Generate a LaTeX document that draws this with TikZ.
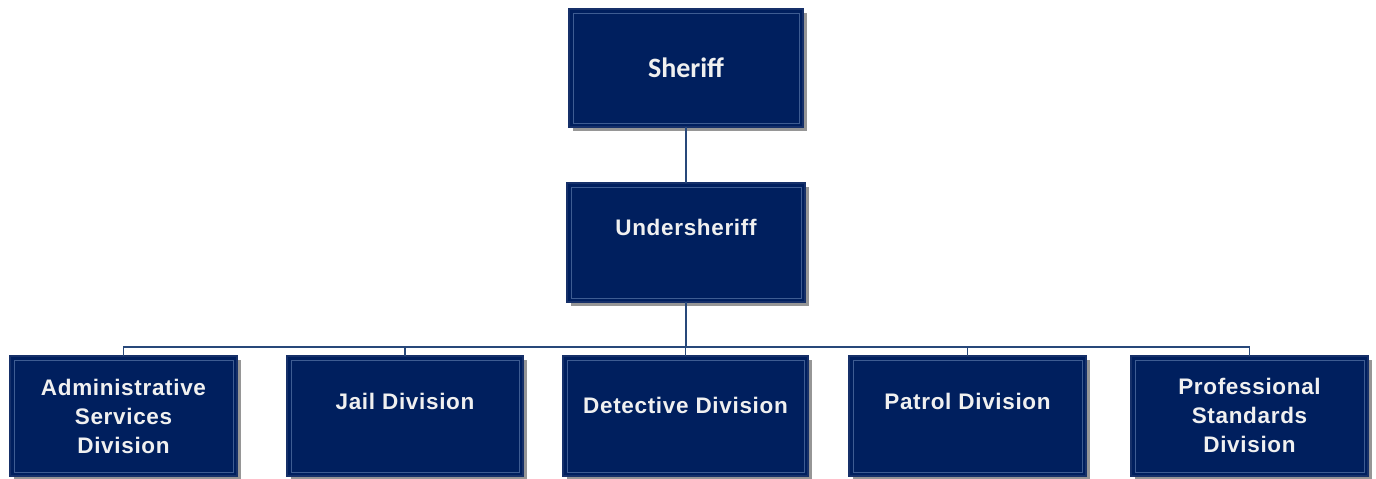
\documentclass[tikz,border=0pt]{standalone}
\usepackage{fontspec}
\setmainfont{Liberation Sans}[LetterSpace=3]
\newfontfamily\titlefont{Carlito}
\usetikzlibrary{shadows}
\definecolor{navy}{RGB}{0,31,94}
\definecolor{navyedge}{RGB}{22,48,105}
\definecolor{innerline}{RGB}{62,92,146}
\definecolor{linkblue}{RGB}{40,72,122}
\definecolor{shadowgray}{RGB}{150,150,150}
\tikzset{
  orgbox/.style={draw=navyedge, line width=1.2pt, fill=navy,
    inner sep=0pt, outer sep=0pt,
    drop shadow={shadow xshift=3.5pt, shadow yshift=-3.5pt, fill=shadowgray, opacity=1},
    path picture={\draw[innerline, line width=1pt]
      ([shift={(4pt,4pt)}]path picture bounding box.south west) rectangle
      ([shift={(-4pt,-4pt)}]path picture bounding box.north east);}},
  boxtext/.style={text=white!94!black, font=\bfseries\fontsize{22.5}{29}\selectfont,
    align=center, inner sep=0pt},
  link/.style={draw=linkblue, line width=1.3pt}
}
\begin{document}
\begin{tikzpicture}
\useasboundingbox (0,0) rectangle (1376pt,-479pt);
% top of the chain
\node[orgbox, minimum width=234pt, minimum height=118pt] (sheriff) at (686pt,-68pt) {};
\node[orgbox, minimum width=238pt, minimum height=119pt] (under) at (686pt,-242.5pt) {};
% divisions
\node[orgbox, minimum width=227pt, minimum height=120pt] (admin) at (123.5pt,-416pt) {};
\node[orgbox, minimum width=236pt, minimum height=120pt] (jail) at (405pt,-416pt) {};
\node[orgbox, minimum width=245pt, minimum height=120pt] (detective) at (685.5pt,-416pt) {};
\node[orgbox, minimum width=237pt, minimum height=120pt] (patrol) at (967.5pt,-416pt) {};
\node[orgbox, minimum width=237pt, minimum height=120pt] (profstd) at (1249.5pt,-416pt) {};
% labels
\node[boxtext, font=\titlefont\bfseries\fontsize{28}{32}\selectfont] (sheriff-t) at (686pt,-68pt) {Sheriff};
\node[boxtext] (under-t) at (686pt,-227pt) {Undersheriff};
\node[boxtext] (admin-t) at (123.5pt,-416pt) {Administrative\\Services\\Division};
\node[boxtext] (jail-t) at (405pt,-401pt) {Jail Division};
\node[boxtext] (detective-t) at (685.5pt,-405pt) {Detective Division};
\node[boxtext] (patrol-t) at (967.5pt,-401pt) {Patrol Division};
\node[boxtext] (profstd-t) at (1249.5pt,-415pt) {Professional\\Standards\\Division};
% connectors
\coordinate (bus) at (686pt,-347pt);
\draw[link] (sheriff.south) -- (under.north);
\draw[link] (under.south) -- (bus);
\draw[link] (admin.north) |- (bus);
\draw[link] (profstd.north) |- (bus);
\draw[link] (jail.north) -- (jail.north |- bus);
\draw[link] (detective.north) -- (detective.north |- bus);
\draw[link] (patrol.north) -- (patrol.north |- bus);
\end{tikzpicture}
\end{document}
